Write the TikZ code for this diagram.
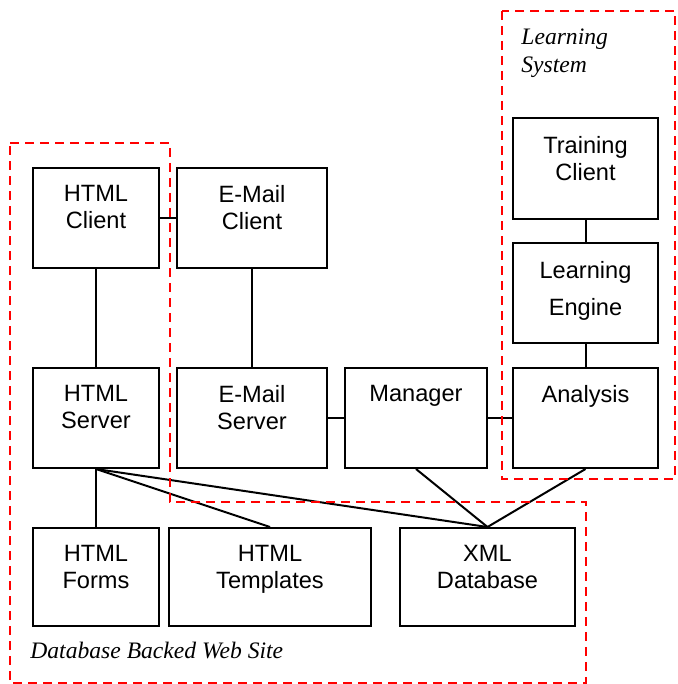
\documentclass[tikz,border=0pt]{standalone}
\usepackage{fontspec}
\setmainfont{Liberation Sans}
\newfontfamily\grpfont{Liberation Serif}

\tikzset{
  blk/.style={draw, line width=1pt, inner sep=0pt},
  txt/.style={anchor=north, inner sep=0pt, align=center, font=\fontsize{11.8}{13.6}\selectfont},
  wire/.style={line width=1pt},
  grp/.style={draw=red, line width=1pt, dash pattern=on 4.5pt off 3pt},
  grplbl/.style={inner sep=0pt, align=left, font=\grpfont\itshape\fontsize{11.8}{14}\selectfont}
}

\begin{document}
\begin{tikzpicture}[x=0.5pt,y=0.5pt,yscale=-1]
\useasboundingbox (0,0) rectangle (677,684);

%Shape: Rectangle (boxes)
\node[blk, minimum width=63pt, minimum height=50pt] (hc) at (96,218) {};
\node[blk, minimum width=75pt, minimum height=50pt] (ec) at (252,218) {};
\node[blk, minimum width=63pt, minimum height=50pt] (hs) at (96,418) {};
\node[blk, minimum width=75pt, minimum height=50pt] (es) at (252,418) {};
\node[blk, minimum width=71pt, minimum height=50pt] (mg) at (416,418) {};
\node[blk, minimum width=72.5pt, minimum height=50pt] (an) at (585.5,418) {};
\node[blk, minimum width=72.5pt, minimum height=50pt] (le) at (585.5,293) {};
\node[blk, minimum width=72.5pt, minimum height=50pt] (tc) at (585.5,168.5) {};
\node[blk, minimum width=63pt, minimum height=49pt] (hf) at (96,577) {};
\node[blk, minimum width=101pt, minimum height=49pt] (ht) at (270,577) {};
\node[blk, minimum width=87.5pt, minimum height=49pt] (xd) at (487.5,577) {};

% Text Node
\node[txt] (hcT) at (96,185) {HTML\\Client};
\node[txt] (ecT) at (252,185) {E-Mail\\Client};
\node[txt] (hsT) at (96,385) {HTML\\Server};
\node[txt] (esT) at (252,385) {E-Mail\\Server};
\node[txt] (mgT) at (416,385) {Manager};
\node[txt] (anT) at (585.5,385) {Analysis};
\node[txt] (leT) at (585.5,261) {Learning\\[4.9pt]Engine};
\node[txt] (tcT) at (585.5,136) {Training\\Client};
\node[txt] (hfT) at (96,545) {HTML\\Forms};
\node[txt] (htT) at (270,545) {HTML\\Templates};
\node[txt] (xdT) at (487.5,545) {XML\\Database};

%Straight Lines
\draw[wire] (hc) -- (ec);
\draw[wire] (hc) -- (hs);
\draw[wire] (ec) -- (es);
\draw[wire] (es) -- (mg);
\draw[wire] (mg) -- (an);
\draw[wire] (tc) -- (le);
\draw[wire] (le) -- (an);
\draw[wire] (hs.south) -- (hf.north);
\draw[wire] (hs.south) -- (ht.north);
\draw[wire] (hs.south) -- (xd.north);
\draw[wire] (mg.south) -- (xd.north);
\draw[wire] (an.south) -- (xd.north);

%Dashed outlines
\draw[grp] (10,143) -- (170,143) -- (170,502) -- (586,502) -- (586,683) -- (10,683) -- cycle;
\draw[grp] (502,11) rectangle (675,479);

% Text Node
\node[grplbl, anchor=north west] (lsT) at (521,28) {Learning\\System};
\node[grplbl, anchor=base west] (dbT) at (30,658) {Database Backed Web Site};

\end{tikzpicture}
\end{document}
